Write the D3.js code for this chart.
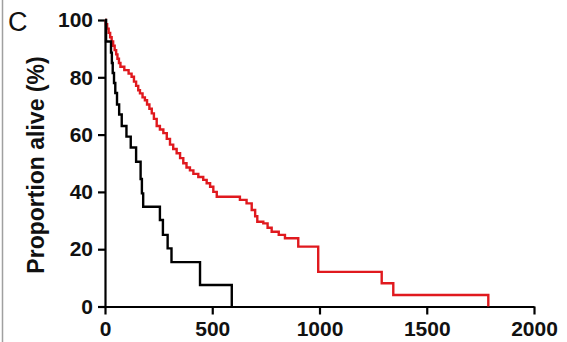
<!DOCTYPE html>
<html>
<head>
<meta charset="utf-8">
<script src="https://cdn.jsdelivr.net/npm/d3@7"></script>
<style>
  body { margin: 0; background: #fff; }
  svg { display: block; }
  text { font-family: Arial, "Liberation Sans", sans-serif; }
</style>
</head>
<body>
<div id="chart"></div>
<script>
var width = 567,
	height = 342;

// survival curves: time (days) and proportion alive (%) after each step
var blackTimes = [0, 5, 28, 32, 36, 42, 48, 56, 66, 78, 100, 120, 145, 166, 172, 178, 256, 270, 292, 310, 443, 591];
var blackSurv  = [100, 92.5, 88.6, 85, 81.5, 78, 74.5, 70.5, 67, 63, 59.3, 55.5, 50.5, 44.5, 39.5, 34.8, 30.2, 25, 20.3, 15.5, 7.5, 0];

var redTimes = [0, 4, 10, 17, 24, 31, 38, 45, 52, 58, 65, 72, 90, 110, 124, 135, 145, 155, 163, 175, 186, 196, 207, 218, 228, 241, 256, 272, 288, 303, 318, 334, 350, 365, 380, 396, 412, 435, 458, 474, 490, 505, 521, 629, 660, 684, 700, 710, 738, 758, 777, 810, 839, 901, 994, 1290, 1344, 1787];
var redSurv  = [100, 98.5, 97, 95.5, 94, 92.5, 91, 89.5, 88, 86.5, 85, 83.7, 82.5, 81.3, 80.2, 78.5, 77, 75.5, 74.4, 73, 72, 70.5, 69, 67.4, 65.5, 63, 61.8, 60.5, 58.5, 56.5, 55, 53.5, 51.8, 50, 48.5, 47.5, 46.3, 45.2, 44.2, 43, 41.8, 40, 38.3, 37.2, 36, 33.7, 31.5, 29.6, 29, 27.5, 26.1, 25, 23.8, 20.9, 12.1, 8.1, 4.0, 0];

var xTicks = [0, 500, 1000, 1500, 2000];
var yTicks = [0, 20, 40, 60, 80, 100];

var svg = d3.select('#chart')
			.append('svg')
			.attr('width', width)
			.attr('height', height);

// faint frame line on the left
svg.append('line')
	.attr('x1', 2.5).attr('x2', 2.5)
	.attr('y1', 0).attr('y2', height)
	.attr('stroke', '#a0a0a0')
	.attr('stroke-width', 1.5);

var xScale = d3.scaleLinear().domain([0, 2000]).range([105, 534]);
var yScale = d3.scaleLinear().domain([0, 100]).range([306.5, 20]);

var xAxis = d3.axisBottom(xScale).tickValues(xTicks).tickFormat(d3.format('d'))
	.tickSize(8).tickSizeOuter(0).tickPadding(7);
var yAxis = d3.axisLeft(yScale).tickValues(yTicks).tickFormat(d3.format('d'))
	.tickSize(7).tickSizeOuter(0).tickPadding(5);

var gx = svg.append('g')
	.attr('transform', 'translate(0,' + yScale(0) + ')')
	.call(xAxis);

var gy = svg.append('g')
	.attr('transform', 'translate(' + xScale(0) + ',0)')
	.call(yAxis);

[gx, gy].forEach(function(g) {
	g.selectAll('path, line')
	 .attr('stroke', '#000')
	 .attr('stroke-width', 2.2);
	g.selectAll('text')
	 .attr('fill', '#111')
	 .style('font-size', '21px')
	 .style('font-weight', 'bold');
});

var line = d3.line()
	.x(function(d) { return xScale(d[0]); })
	.y(function(d) { return yScale(d[1]); })
	.curve(d3.curveStepAfter);

svg.append('path')
	.datum(d3.zip(redTimes, redSurv))
	.attr('d', line)
	.attr('fill', 'none')
	.attr('stroke', '#e0191e')
	.attr('stroke-width', 2.4);

svg.append('path')
	.datum(d3.zip(blackTimes, blackSurv))
	.attr('d', line)
	.attr('fill', 'none')
	.attr('stroke', '#000')
	.attr('stroke-width', 2.4);

svg.append('text')
	.attr('transform', 'translate(44,165) rotate(-90)')
	.attr('text-anchor', 'middle')
	.style('font-size', '23px')
	.style('font-weight', 'bold')
	.attr('fill', '#111')
	.text('Proportion alive (%)');

svg.append('text')
	.attr('x', 8)
	.attr('y', 31)
	.style('font-size', '27px')
	.attr('fill', '#111')
	.text('C');
</script>
</body>
</html>
